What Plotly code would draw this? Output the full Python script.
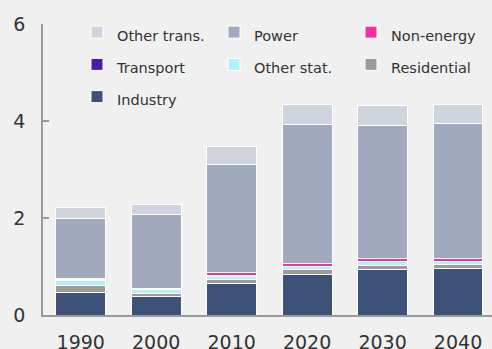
import plotly.graph_objects as go

years = ["1990", "2000", "2010", "2020", "2030", "2040"]

# stacked from the bottom up
industry = [0.46, 0.38, 0.65, 0.84, 0.93, 0.96]
residential = [0.14, 0.07, 0.09, 0.09, 0.10, 0.09]
other_stat = [0.11, 0.07, 0.06, 0.07, 0.07, 0.05]
transport = [0.02, 0.01, 0.01, 0.01, 0.01, 0.01]
non_energy = [0.03, 0.01, 0.06, 0.05, 0.05, 0.05]
power = [1.22, 1.53, 2.23, 2.86, 2.74, 2.78]
other_trans = [0.23, 0.20, 0.37, 0.42, 0.42, 0.41]

series = [
    ("Industry", industry, "#3E5179"),
    ("Residential", residential, "#9B9B9B"),
    ("Other stat.", other_stat, "#B3F0FA"),
    ("Transport", transport, "#4A1AA8"),
    ("Non-energy", non_energy, "#F5309A"),
    ("Power", power, "#A1A9BF"),
    ("Other trans.", other_trans, "#D0D4DF"),
]

BG = "#F0F0F0"
AXIS = "#9A9A9A"
FONT = "DejaVu Sans"

fig = go.Figure()
for name, vals, color in series:
    fig.add_trace(go.Bar(
        x=years, y=vals,
        name=f'<span style="font-size:14.5px">{name}</span>',
        marker=dict(color=color, line=dict(color="white", width=1)),
        width=0.66,
    ))

fig.update_layout(
    width=492, height=349,
    barmode="stack",
    paper_bgcolor=BG, plot_bgcolor=BG,
    margin=dict(l=43, r=0, t=24, b=34, autoexpand=False),
    font=dict(family=FONT, color="#333333", size=19),
    showlegend=True,
    legend=dict(
        orientation="h", traceorder="reversed",
        xref="container", yref="container",
        x=77 / 492, y=1 - 11 / 349, xanchor="left", yanchor="top",
        bgcolor="rgba(0,0,0,0)",
        font=dict(family=FONT, size=22.5, color="#333333"),
        entrywidth=92,
        itemclick=False,
    ),
    xaxis=dict(
        range=[-0.5, 5.45], showgrid=False, zeroline=False,
        showline=True, linecolor=AXIS, linewidth=1.5,
        ticks="", ticklabelstandoff=9,
        tickfont=dict(size=19, color="#333333"),
    ),
    yaxis=dict(
        range=[0, 6], tickvals=[0, 2, 4, 6], showgrid=False, zeroline=False,
        showline=True, linecolor=AXIS, linewidth=1.5,
        ticks="inside", ticklen=6, tickcolor=AXIS, tickwidth=1.5,
        ticklabelstandoff=12,
        tickfont=dict(size=19, color="#333333"),
    ),
)

fig.write_html("out.html")
